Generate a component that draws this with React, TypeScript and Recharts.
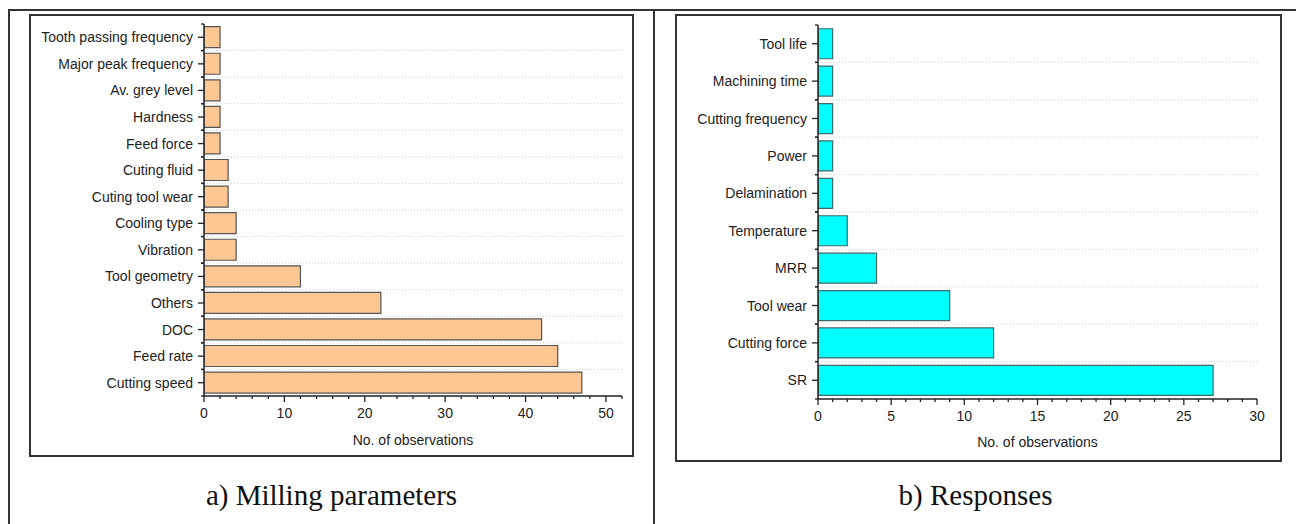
import { BarChart, Bar, XAxis, YAxis, CartesianGrid } from "recharts";

// a) Milling parameters
const millingNames = [
  "Tooth passing frequency",
  "Major peak frequency",
  "Av. grey level",
  "Hardness",
  "Feed force",
  "Cuting fluid",
  "Cuting tool wear",
  "Cooling type ",
  "Vibration",
  "Tool geometry",
  "Others",
  "DOC",
  "Feed rate",
  "Cutting speed",
];
const millingCounts = [2, 2, 2, 2, 2, 3, 3, 4, 4, 12, 22, 42, 44, 47];
const millingTicks = [
  0, 2, 4, 6, 8, 10, 12, 14, 16, 18, 20, 22, 24, 26, 28, 30, 32, 34, 36, 38, 40, 42, 44, 46, 48, 50, 52,
];

// b) Responses
const responseNames = [
  "Tool life",
  "Machining time",
  "Cutting frequency",
  "Power",
  "Delamination",
  "Temperature",
  "MRR",
  "Tool wear",
  "Cutting force",
  "SR",
];
const responseCounts = [1, 1, 1, 1, 1, 2, 4, 9, 12, 27];
const responseTicks = [
  0, 1, 2, 3, 4, 5, 6, 7, 8, 9, 10, 11, 12, 13, 14, 15, 16, 17, 18, 19, 20, 21, 22, 23, 24, 25, 26, 27, 28, 29, 30,
];

const INK = "#222";
const SANS = "'Liberation Sans', Arial, sans-serif";

type PanelProps = {
  names: string[];
  counts: number[];
  ticks: number[];
  major: number;
  max: number;
  fill: string;
  stroke: string;
  box: { left: number; top: number; width: number; height: number };
  margin: { top: number; right: number; bottom: number; left: number };
  yWidth: number;
  xHeight: number;
  labelOffset: number;
};

function Panel(p: PanelProps) {
  const data = p.names.map((name, i) => ({ name, count: p.counts[i] }));
  const plotH = p.box.height - p.margin.top - p.margin.bottom - p.xHeight;
  const band = plotH / p.names.length;

  const XTick = (props: any) => {
    const { x, y, payload } = props;
    const isMajor = payload.value % p.major === 0;
    return (
      <g>
        <line x1={x} x2={x} y1={y} y2={y + (isMajor ? 6 : 3)} stroke={INK} strokeWidth={1.3} />
        {isMajor && (
          <text x={x} y={y + 22} textAnchor="middle" fontSize={14} fontFamily={SANS} fill={INK}>
            {payload.value}
          </text>
        )}
      </g>
    );
  };

  const YTick = (props: any) => {
    const { x, y, payload } = props;
    return (
      <g>
        <line x1={x - 6} x2={x} y1={y} y2={y} stroke={INK} strokeWidth={1.3} />
        <line x1={x - 3} x2={x} y1={y - band / 2} y2={y - band / 2} stroke={INK} strokeWidth={1.3} />
        <line x1={x - 3} x2={x} y1={y + band / 2} y2={y + band / 2} stroke={INK} strokeWidth={1.3} />
        <text x={x - 11} y={y + 5} textAnchor="end" fontSize={14} fontFamily={SANS} fill={INK}>
          {payload.value}
        </text>
      </g>
    );
  };

  return (
    <>
      <div style={{ position: "absolute", left: p.box.left, top: p.box.top }}>
        <BarChart
          width={p.box.width}
          height={p.box.height}
          data={data}
          layout="vertical"
          margin={p.margin}
          barCategoryGap="10%"
        >
          <CartesianGrid
            vertical={false}
            stroke="#cfcfcf"
            strokeDasharray="1 2"
            horizontalCoordinatesGenerator={({ offset }: any) =>
              p.names.slice(1).map((_, i) => offset.top + ((i + 1) * offset.height) / p.names.length)
            }
          />
          <XAxis
            type="number"
            domain={[0, p.max]}
            ticks={p.ticks}
            interval={0}
            height={p.xHeight}
            tickSize={0}
            tickMargin={0}
            tickLine={false}
            tick={XTick}
            axisLine={{ stroke: INK, strokeWidth: 1.5 }}
            allowDataOverflow
            label={{
              value: "No. of observations",
              position: "insideBottom",
              offset: p.labelOffset,
              style: { fontSize: 14, fontFamily: SANS, fill: INK },
            }}
          />
          <YAxis
            type="category"
            dataKey="name"
            width={p.yWidth}
            interval={0}
            tickSize={0}
            tickMargin={0}
            tickLine={false}
            tick={YTick}
            axisLine={{ stroke: INK, strokeWidth: 1.5 }}
          />
          <Bar dataKey="count" fill={p.fill} stroke={p.stroke} strokeWidth={1.2} isAnimationActive={false} />
        </BarChart>
      </div>
      <div
        style={{
          position: "absolute",
          left: p.box.left,
          top: p.box.top,
          width: p.box.width,
          height: p.box.height,
          border: "2px solid #333",
          boxSizing: "border-box",
          pointerEvents: "none",
        }}
      />
    </>
  );
}

const titleStyle: React.CSSProperties = {
  position: "absolute",
  top: 481,
  fontFamily: "'Liberation Serif', 'Times New Roman', serif",
  fontSize: 29,
  lineHeight: "29px",
  color: "#111",
  textAlign: "center",
};

export default function App() {
  return (
    <div
      style={{
        position: "absolute",
        left: 0,
        top: 0,
        width: 1296,
        height: 524,
        background: "#fff",
        overflow: "hidden",
      }}
    >
      <div style={{ position: "absolute", left: 8, top: 9, width: 1288, height: 2, background: "#333" }} />
      <div style={{ position: "absolute", left: 8, top: 9, width: 2, height: 515, background: "#333" }} />
      <div style={{ position: "absolute", left: 653, top: 9, width: 2, height: 515, background: "#333" }} />

      <Panel
        names={millingNames}
        counts={millingCounts}
        ticks={millingTicks}
        major={10}
        max={52}
        fill="#FCC793"
        stroke="#555"
        box={{ left: 29, top: 14, width: 605, height: 443 }}
        margin={{ top: 10, right: 12, bottom: 10, left: 0 }}
        yWidth={175}
        xHeight={51}
        labelOffset={2}
      />
      <Panel
        names={responseNames}
        counts={responseCounts}
        ticks={responseTicks}
        major={5}
        max={30}
        fill="#00FFFF"
        stroke="#3f6b6b"
        box={{ left: 675, top: 14, width: 607, height: 448 }}
        margin={{ top: 11, right: 25, bottom: 8, left: 0 }}
        yWidth={143}
        xHeight={55}
        labelOffset={7}
      />

      <div style={{ ...titleStyle, left: 10, width: 643 }}>a) Milling parameters</div>
      <div style={{ ...titleStyle, left: 655, width: 641 }}>b) Responses</div>
    </div>
  );
}
